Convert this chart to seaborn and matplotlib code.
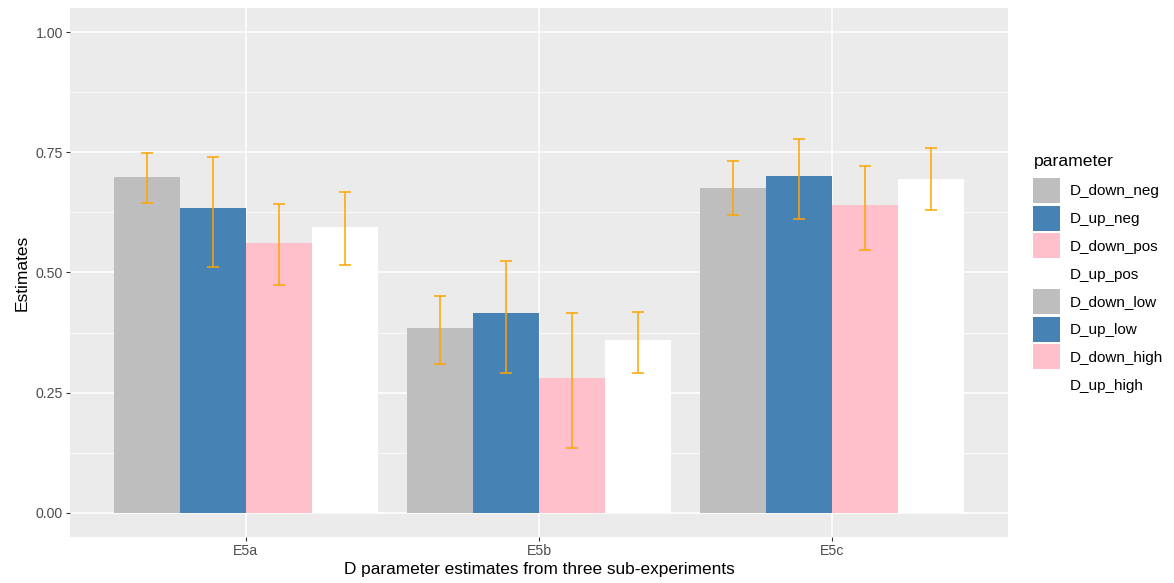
import matplotlib
matplotlib.use("Agg")
import matplotlib.pyplot as plt
from matplotlib.patches import Patch
from matplotlib.ticker import MultipleLocator
import numpy as np
import pandas as pd
import seaborn as sns

# ---- data -------------------------------------------------------------
experiments = ["E5a", "E5b", "E5c"]

parameters = ["D_down_neg", "D_up_neg", "D_down_pos", "D_up_pos",
              "D_down_low", "D_up_low", "D_down_high", "D_up_high"]
param_colors = ["#BEBEBE", "#4682B4", "#FFC0CB", "#FFFFFF",
                "#BEBEBE", "#4682B4", "#FFC0CB", "#FFFFFF"]

e5a_params = ["D_down_neg", "D_up_neg", "D_down_pos", "D_up_pos"]
e5a_est = [0.698, 0.635, 0.561, 0.595]
e5a_lower = [0.644, 0.511, 0.474, 0.515]
e5a_upper = [0.749, 0.741, 0.643, 0.668]

e5b_params = ["D_down_neg", "D_up_neg", "D_down_pos", "D_up_pos"]
e5b_est = [0.384, 0.416, 0.280, 0.359]
e5b_lower = [0.309, 0.292, 0.135, 0.291]
e5b_upper = [0.452, 0.523, 0.415, 0.417]

e5c_params = ["D_down_low", "D_up_low", "D_down_high", "D_up_high"]
e5c_est = [0.676, 0.700, 0.640, 0.695]
e5c_lower = [0.619, 0.612, 0.547, 0.631]
e5c_upper = [0.732, 0.778, 0.722, 0.759]

# ---- tidy table -------------------------------------------------------
frames = []
for exp, prm, est, lo, hi in [
    ("E5a", e5a_params, e5a_est, e5a_lower, e5a_upper),
    ("E5b", e5b_params, e5b_est, e5b_lower, e5b_upper),
    ("E5c", e5c_params, e5c_est, e5c_lower, e5c_upper),
]:
    frames.append(pd.DataFrame({"experiment": exp, "parameter": prm,
                                "estimate": est, "lower": lo, "upper": hi}))
df = pd.concat(frames, ignore_index=True)
palette = dict(zip(parameters, param_colors))

# ---- style ------------------------------------------------------------
plt.rcParams["font.family"] = ["Liberation Sans", "DejaVu Sans"]

fig = plt.figure(figsize=(11.74, 5.83), dpi=100)
ax = fig.add_axes([70 / 1174, 1 - 537 / 583, 938 / 1174, 529 / 583])
ax.set_facecolor("#EBEBEB")

# each sub-experiment has its own four parameters, dodged within its slot
for exp in experiments:
    sub = df[df["experiment"] == exp]
    n_before = len(ax.patches)
    sns.barplot(data=sub, x="experiment", y="estimate", hue="parameter",
                order=experiments, hue_order=list(sub["parameter"]),
                palette=palette, saturation=1, width=0.9, errorbar=None,
                linewidth=0, legend=False, ax=ax, zorder=2)
    bars = ax.patches[n_before:]
    centers = [b.get_x() + b.get_width() / 2 for b in bars]
    est = sub["estimate"].to_numpy()
    yerr = np.vstack([est - sub["lower"].to_numpy(),
                      sub["upper"].to_numpy() - est])
    ax.errorbar(centers, est, yerr=yerr, fmt="none", ecolor="#FFA500",
                elinewidth=1.1, capsize=4.3, capthick=1.1, zorder=3)

ax.set_xlim(-0.6, 2.6)
ax.set_ylim(-0.05, 1.05)
ax.yaxis.set_major_locator(MultipleLocator(0.25))
ax.yaxis.set_minor_locator(MultipleLocator(0.125))
ax.set_yticks([0, 0.25, 0.5, 0.75, 1.0])
ax.set_yticklabels(["0.00", "0.25", "0.50", "0.75", "1.00"])

ax.grid(which="major", axis="both", color="white", linewidth=1.1, zorder=0)
ax.grid(which="minor", axis="y", color="white", linewidth=0.55, zorder=0)
ax.set_axisbelow(True)
for s in ax.spines.values():
    s.set_visible(False)
ax.tick_params(axis="both", which="major", color="#333333", length=3,
               width=0.8, labelsize=10.2, labelcolor="#4D4D4D", pad=2)
ax.tick_params(axis="y", which="minor", length=0)

ax.set_xlabel("D parameter estimates from three sub-experiments",
              fontsize=12.4, color="black", labelpad=3)
ax.set_ylabel("Estimates", fontsize=12.5, color="black", labelpad=4)

# legend: title set as its own text, keys stacked beneath it
fig.text(1034 / 1174, 1 - 166 / 583, "parameter", fontsize=12.6,
         ha="left", va="baseline", color="black")
handles = [Patch(facecolor=palette[p], edgecolor="none", label=p)
           for p in parameters]
leg = fig.legend(handles=handles, loc="upper left",
                 bbox_to_anchor=(1033 / 1174, 1 - 178 / 583), frameon=False,
                 fontsize=11, handlelength=1.76, handleheight=2.14,
                 labelspacing=0.18, handletextpad=0.65,
                 borderaxespad=0, borderpad=0)

fig.savefig("out.png", dpi=100, facecolor="white")
